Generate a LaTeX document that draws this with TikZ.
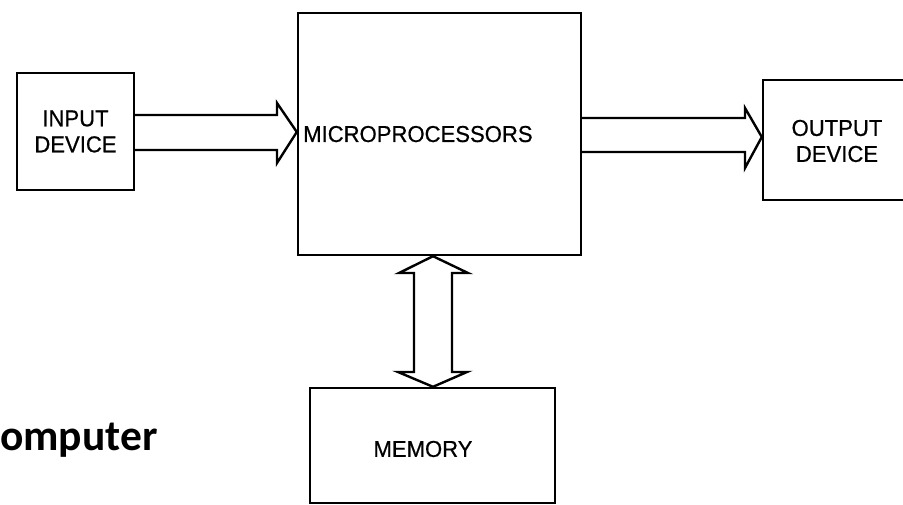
\documentclass[tikz,border=0pt]{standalone}
\usepackage{fontspec}
\setmainfont{Liberation Sans}
\newfontfamily\labelfont[FakeStretch=0.96,FakeBold=0.6]{Liberation Sans}
\newfontfamily\titlefont{Carlito}
\begin{document}
\begin{tikzpicture}[x=1pt,y=-1pt,
  blockbox/.style={draw=black, line width=2.4pt, rectangle, inner sep=0pt, fill=white},
  lbl/.style={font=\labelfont\fontsize{23}{26}\selectfont, text=black, inner sep=0pt, align=center},
  fat/.style={draw=black, line width=2.4pt, line join=miter, fill=white}]
\useasboundingbox (0,0) rectangle (903,505);
\fill[white] (0,0) rectangle (903,505);

% boxes
\node[blockbox, minimum width=117pt, minimum height=117pt] (in) at (75.5,131.5) {};
\node[blockbox, minimum width=283pt, minimum height=242pt] (mp) at (439.5,134) {};
\node[blockbox, minimum width=152pt, minimum height=120pt] (out) at (839,140) {};
\node[blockbox, minimum width=245pt, minimum height=115pt] (mem) at (432.5,445.5) {};

% labels
\node[lbl] (inlbl) at (75.5,131.5) {INPUT\\DEVICE};
\node[lbl, anchor=base west] (mplbl) at (303,142) {MICROPROCESSORS};
\node[lbl] (outlbl) at (837,141) {OUTPUT\\DEVICE};
\node[lbl] (memlbl) at (423,449) {MEMORY};
\node[anchor=base west, inner sep=0pt, font=\titlefont\bfseries\fontsize{43.5}{48}\selectfont] (title) at (0,450) {omputer};

% helper coordinates
\coordinate (iy1) at (0,115);
\coordinate (iy2) at (0,150);
\coordinate (ity) at (0,132);
\coordinate (oy1) at (0,118);
\coordinate (oy2) at (0,152);
\coordinate (oty) at (0,137);
\coordinate (mx) at (433,0);

% input fat arrow
\draw[fat] (in.east |- iy1) -- (277,115) -- (277,103) -- (mp.west |- ity)
  -- (277,163) -- (277,150) -- (in.east |- iy2);
% output fat arrow
\draw[fat] (mp.east |- oy1) -- (745,118) -- (745,108) -- (out.west |- oty)
  -- (745,168) -- (745,152) -- (mp.east |- oy2);
% memory double fat arrow
\draw[fat] (mx |- mp.south) -- (468,273) -- (452,273) -- (452,372) -- (467,372)
  -- (mx |- mem.north) -- (398,372) -- (414,372) -- (414,273) -- (399,273) -- cycle;
\end{tikzpicture}
\end{document}
